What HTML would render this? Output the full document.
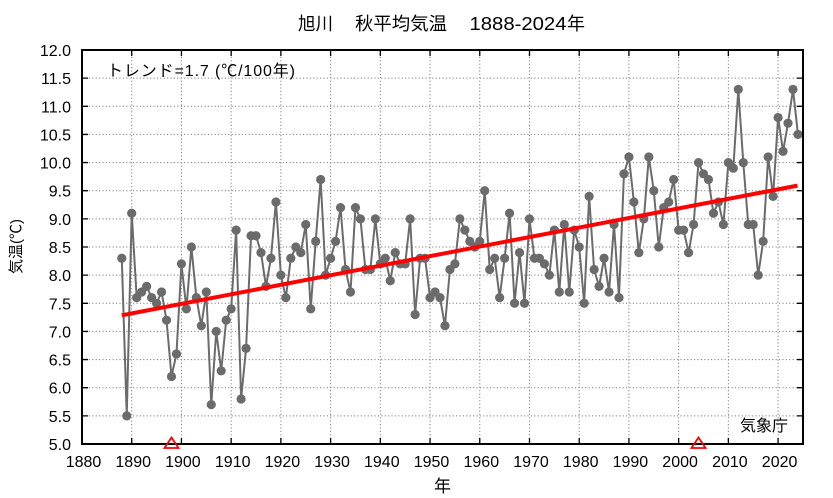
<!DOCTYPE html>
<html><head><meta charset="utf-8"><style>
html,body{margin:0;padding:0;background:#fff;}
svg{display:block;}
text{font-family:"Liberation Sans","Noto Sans CJK JP",sans-serif;fill:#000;}
</style></head><body>
<svg width="833" height="498" viewBox="0 0 833 498" xmlns="http://www.w3.org/2000/svg">
<defs>
<marker id="dot" viewBox="0 0 10 10" refX="5" refY="5" markerWidth="10" markerHeight="10" markerUnits="userSpaceOnUse">
<circle cx="5" cy="5" r="4.6" fill="#6b6b6b"/>
</marker>
</defs>
<rect width="833" height="498" fill="#fff"/>
<!-- grid -->
<g stroke="#808080" stroke-width="1" stroke-dasharray="1.2,2.2" fill="none">
<path d="M131.72 50V444M181.44 50V444M231.16 50V444M280.88 50V444M330.6 50V444M380.32 50V444M430.04 50V444M479.76 50V444M529.48 50V444M579.2 50V444M628.92 50V444M678.64 50V444M728.36 50V444M778.08 50V444"/>
<path d="M82 415.86H803M82 387.71H803M82 359.57H803M82 331.43H803M82 303.29H803M82 275.14H803M82 247H803M82 218.86H803M82 190.71H803M82 162.57H803M82 134.43H803M82 106.29H803M82 78.14H803"/>
</g>
<!-- ticks -->
<g stroke="#000" stroke-width="1.3" fill="none">
<path d="M131.72 444v-6M181.44 444v-6M231.16 444v-6M280.88 444v-6M330.6 444v-6M380.32 444v-6M430.04 444v-6M479.76 444v-6M529.48 444v-6M579.2 444v-6M628.92 444v-6M678.64 444v-6M728.36 444v-6M778.08 444v-6"/>
<path d="M131.72 50v6M181.44 50v6M231.16 50v6M280.88 50v6M330.6 50v6M380.32 50v6M430.04 50v6M479.76 50v6M529.48 50v6M579.2 50v6M628.92 50v6M678.64 50v6M728.36 50v6M778.08 50v6"/>
<path d="M82 415.86h6M82 387.71h6M82 359.57h6M82 331.43h6M82 303.29h6M82 275.14h6M82 247h6M82 218.86h6M82 190.71h6M82 162.57h6M82 134.43h6M82 106.29h6M82 78.14h6"/>
<path d="M803 415.86h-6M803 387.71h-6M803 359.57h-6M803 331.43h-6M803 303.29h-6M803 275.14h-6M803 247h-6M803 218.86h-6M803 190.71h-6M803 162.57h-6M803 134.43h-6M803 106.29h-6M803 78.14h-6"/>
</g>
<!-- data -->
<polyline fill="none" stroke="#6b6b6b" stroke-width="2" stroke-linejoin="round" marker-start="url(#dot)" marker-mid="url(#dot)" marker-end="url(#dot)" points="121.78,258.26 126.75,415.86 131.72,213.23 136.69,297.66 141.66,292.03 146.64,286.40 151.61,297.66 156.58,303.29 161.55,292.03 166.52,320.17 171.50,376.46 176.47,353.94 181.44,263.89 186.41,308.91 191.38,247.00 196.36,297.66 201.33,325.80 206.30,292.03 211.27,404.60 216.24,331.43 221.22,370.83 226.19,320.17 231.16,308.91 236.13,230.11 241.10,398.97 246.08,348.31 251.05,235.74 256.02,235.74 260.99,252.63 265.96,286.40 270.94,258.26 275.91,201.97 280.88,275.14 285.85,297.66 290.82,258.26 295.80,247.00 300.77,252.63 305.74,224.49 310.71,308.91 315.68,241.37 320.66,179.46 325.63,275.14 330.60,258.26 335.57,241.37 340.54,207.60 345.52,269.51 350.49,292.03 355.46,207.60 360.43,218.86 365.40,269.51 370.38,269.51 375.35,218.86 380.32,263.89 385.29,258.26 390.26,280.77 395.24,252.63 400.21,263.89 405.18,263.89 410.15,218.86 415.12,314.54 420.10,258.26 425.07,258.26 430.04,297.66 435.01,292.03 439.98,297.66 444.96,325.80 449.93,269.51 454.90,263.89 459.87,218.86 464.84,230.11 469.82,241.37 474.79,247.00 479.76,241.37 484.73,190.71 489.70,269.51 494.68,258.26 499.65,297.66 504.62,258.26 509.59,213.23 514.56,303.29 519.54,252.63 524.51,303.29 529.48,218.86 534.45,258.26 539.42,258.26 544.40,263.89 549.37,275.14 554.34,230.11 559.31,292.03 564.28,224.49 569.26,292.03 574.23,230.11 579.20,247.00 584.17,303.29 589.14,196.34 594.12,269.51 599.09,286.40 604.06,258.26 609.03,292.03 614.00,224.49 618.98,297.66 623.95,173.83 628.92,156.94 633.89,201.97 638.86,252.63 643.84,218.86 648.81,156.94 653.78,190.71 658.75,247.00 663.72,207.60 668.70,201.97 673.67,179.46 678.64,230.11 683.61,230.11 688.58,252.63 693.56,224.49 698.53,162.57 703.50,173.83 708.47,179.46 713.44,213.23 718.42,201.97 723.39,224.49 728.36,162.57 733.33,168.20 738.30,89.40 743.28,162.57 748.25,224.49 753.22,224.49 758.19,275.14 763.16,241.37 768.14,156.94 773.11,196.34 778.08,117.54 783.05,151.31 788.02,123.17 793.00,89.40 797.97,134.43"/>
<!-- trend -->
<line x1="121.8" y1="315.3" x2="797.5" y2="185.6" stroke="#ff0000" stroke-width="4"/>
<!-- frame -->
<rect x="82" y="50" width="721" height="394" fill="none" stroke="#000" stroke-width="2"/>
<!-- triangles -->
<g fill="none" stroke="#ff0000" stroke-width="1.8" stroke-linejoin="miter">
<polygon points="171.5,437.5 164.5,448 178.5,448"/>
<polygon points="698.5,437.5 691.5,448 705.5,448"/>
</g>
<!-- y tick labels -->
<g font-size="16" text-anchor="end">
<text x="71" y="56">12.0</text>
<text x="71" y="84.1">11.5</text>
<text x="71" y="112.3">11.0</text>
<text x="71" y="140.4">10.5</text>
<text x="71" y="168.6">10.0</text>
<text x="71" y="196.7">9.5</text>
<text x="71" y="224.9">9.0</text>
<text x="71" y="253">8.5</text>
<text x="71" y="281.1">8.0</text>
<text x="71" y="309.3">7.5</text>
<text x="71" y="337.4">7.0</text>
<text x="71" y="365.6">6.5</text>
<text x="71" y="393.7">6.0</text>
<text x="71" y="421.9">5.5</text>
<text x="71" y="450">5.0</text>
</g>
<!-- x tick labels -->
<g font-size="16" text-anchor="middle">
<text x="83.5" y="467">1880</text>
<text x="133.2" y="467">1890</text>
<text x="182.9" y="467">1900</text>
<text x="232.7" y="467">1910</text>
<text x="282.4" y="467">1920</text>
<text x="332.1" y="467">1930</text>
<text x="381.8" y="467">1940</text>
<text x="431.5" y="467">1950</text>
<text x="481.3" y="467">1960</text>
<text x="531" y="467">1970</text>
<text x="580.7" y="467">1980</text>
<text x="630.4" y="467">1990</text>
<text x="680.1" y="467">2000</text>
<text x="729.9" y="467">2010</text>
<text x="779.6" y="467">2020</text>
</g>
<!-- title -->
<text x="298" y="30" font-size="18" textLength="35" lengthAdjust="spacingAndGlyphs">旭川</text>
<text x="355" y="30" font-size="18" textLength="92" lengthAdjust="spacingAndGlyphs">秋平均気温</text>
<text x="469.5" y="30" font-size="18.5" textLength="97" lengthAdjust="spacingAndGlyphs">1888-2024</text>
<text x="567" y="30" font-size="18">年</text>
<!-- annotations -->
<text x="107" y="76" font-size="16" textLength="188" lengthAdjust="spacing">トレンド=1.7 (℃/100年)</text>
<text x="740" y="431" font-size="16" textLength="48" lengthAdjust="spacing">気象庁</text>
<!-- axis labels -->
<text x="442.5" y="492" font-size="17" text-anchor="middle">年</text>
<text transform="translate(21,246.5) rotate(-90)" font-size="15" text-anchor="middle">気温(℃)</text>
</svg>
</body></html>
